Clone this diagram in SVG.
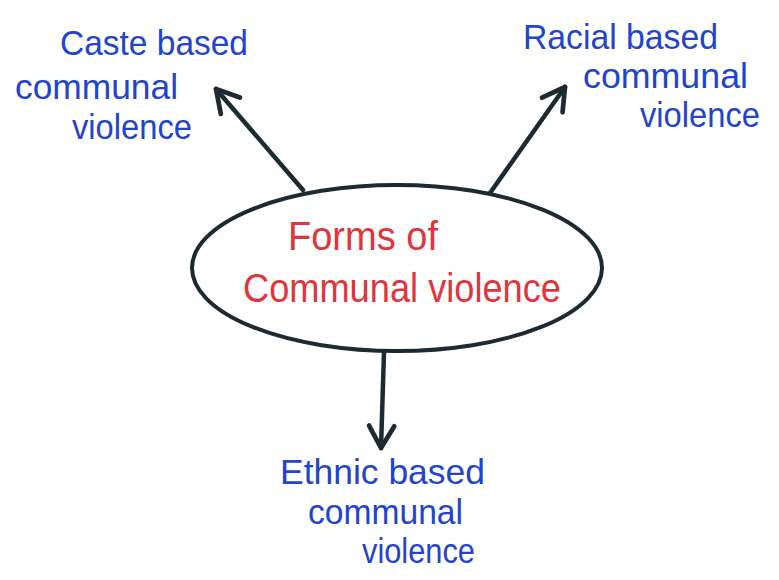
<svg xmlns="http://www.w3.org/2000/svg" width="779" height="580" viewBox="0 0 779 580">
<defs>
<style>
.lbl{font-family:"Liberation Sans","Noto Sans",sans-serif;font-size:35px;fill:#1f44cf;}
.ctr{font-family:"Liberation Sans","Noto Sans",sans-serif;font-size:41px;fill:#e0353a;}
.con{stroke:#1c2b31;stroke-width:4.5;fill:none;stroke-linecap:round;stroke-linejoin:round;}
</style>
<marker id="ah" viewBox="0 0 20 20" refX="17" refY="10" markerWidth="7" markerHeight="7" markerUnits="strokeWidth" orient="auto">
<path d="M3,2 L17,10 L3,18" fill="none" stroke="#1c2b31" stroke-width="3" stroke-linecap="round" stroke-linejoin="round"/>
</marker>
</defs>
<rect width="779" height="580" fill="#ffffff"/>
<g id="connectors">
<line class="con" x1="303" y1="190" x2="216" y2="89" marker-end="url(#ah)"/>
<line class="con" x1="490" y1="193" x2="565" y2="87" marker-end="url(#ah)"/>
<line class="con" x1="384" y1="352" x2="381" y2="448" marker-end="url(#ah)"/>
</g>
<g id="center">
<ellipse cx="397" cy="268" rx="205" ry="83" fill="none" stroke="#1c2b31" stroke-width="4"/>
<text class="ctr" x="288" y="250" textLength="150" lengthAdjust="spacingAndGlyphs">Forms of</text>
<text class="ctr" x="243" y="302" textLength="318" lengthAdjust="spacingAndGlyphs">Communal violence</text>
</g>
<g id="caste">
<text class="lbl" x="60" y="55" textLength="188" lengthAdjust="spacingAndGlyphs">Caste based</text>
<text class="lbl" x="15" y="99" textLength="163" lengthAdjust="spacingAndGlyphs">communal</text>
<text class="lbl" x="72" y="139" textLength="120" lengthAdjust="spacingAndGlyphs">violence</text>
</g>
<g id="racial">
<text class="lbl" x="523" y="49" textLength="195" lengthAdjust="spacingAndGlyphs">Racial based</text>
<text class="lbl" x="583" y="88" textLength="165" lengthAdjust="spacingAndGlyphs">communal</text>
<text class="lbl" x="640" y="127" textLength="120" lengthAdjust="spacingAndGlyphs">violence</text>
</g>
<g id="ethnic">
<text class="lbl" x="280" y="484" textLength="205" lengthAdjust="spacingAndGlyphs">Ethnic based</text>
<text class="lbl" x="308" y="524" textLength="155" lengthAdjust="spacingAndGlyphs">communal</text>
<text class="lbl" x="362" y="563" textLength="113" lengthAdjust="spacingAndGlyphs">violence</text>
</g>
</svg>
